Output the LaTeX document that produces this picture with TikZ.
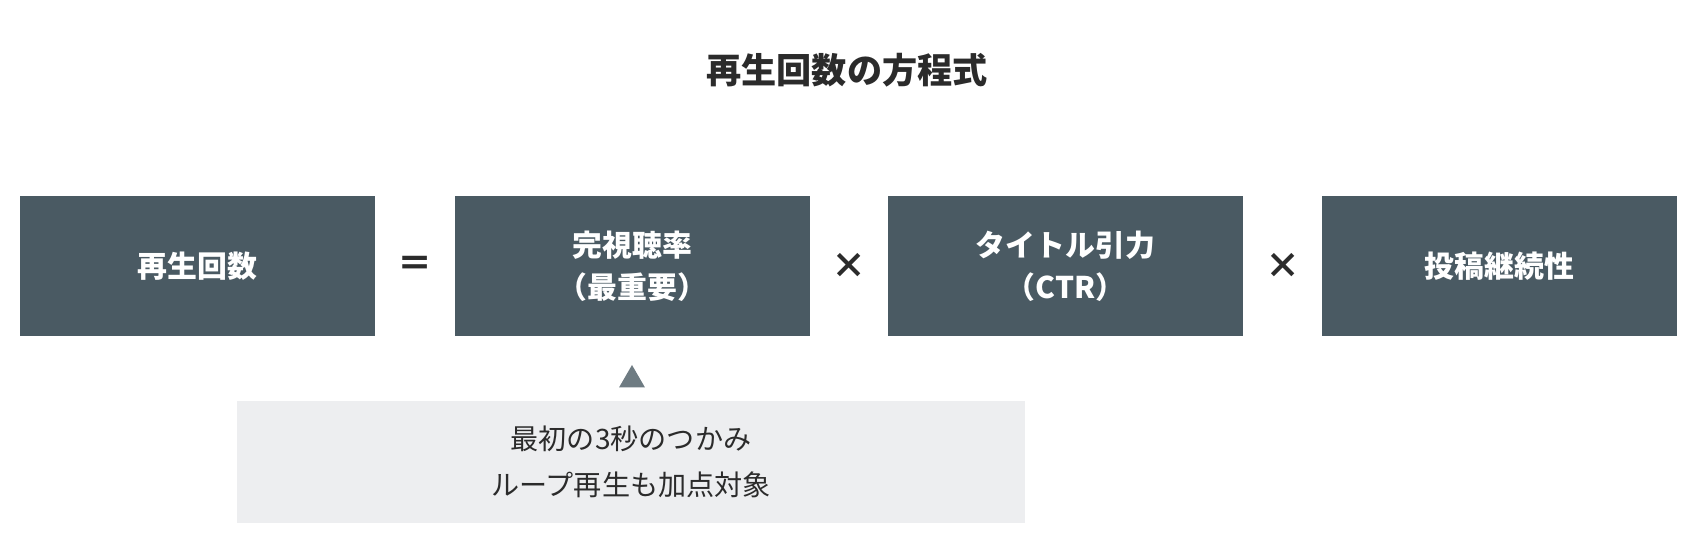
\documentclass[tikz,border=0pt]{standalone}
\usepackage{fontspec}
\newfontfamily\cjk{Noto Sans CJK JP}
\usepackage{tikz}
\usetikzlibrary{positioning,shapes.geometric}
\definecolor{slate}{HTML}{4A5A63}
\definecolor{pale}{HTML}{EDEEF0}
\definecolor{ink}{HTML}{2B2B2B}
\tikzset{
  term/.style={fill=slate,text=white,minimum width=7.1cm,minimum height=2.8cm,
    align=center,font=\cjk\bfseries\fontsize{17}{24}\selectfont,inner sep=0pt},
  op/.style={text=ink,font=\cjk\bfseries\fontsize{20}{20}\selectfont}
}
\begin{document}
\begin{tikzpicture}[x=0.02cm,y=-0.02cm]
\useasboundingbox (0,0) rectangle (1694,546);

% Title
\node[text=ink,font=\cjk\bfseries\fontsize{20}{24}\selectfont] (title) at (847,70) {再生回数の方程式};

% Terms of the equation
\node[term] (plays) at (197.5,266) {再生回数};
\node[term] (watch) at (632.5,266) {完視聴率\\（最重要）};
\node[term] (ctr) at (1065.5,266) {タイトル引力\\（CTR）};
\node[term] (cont) at (1499.5,266) {投稿継続性};

\node[op] (eq) at (415,266) {＝};
\node[op] (x1) at (849,266) {×};
\node[op] (x2) at (1283,266) {×};

% Note
\node[fill=slate!80,regular polygon,regular polygon sides=3,minimum size=0.6cm,inner sep=0pt] (tri) at (632,380) {};
\node[fill=pale,text=ink,minimum width=15.76cm,minimum height=2.46cm,align=center,
  font=\cjk\fontsize{16}{26}\selectfont] (note) at (631,462) {最初の3秒のつかみ\\ループ再生も加点対象};
\end{tikzpicture}
\end{document}
